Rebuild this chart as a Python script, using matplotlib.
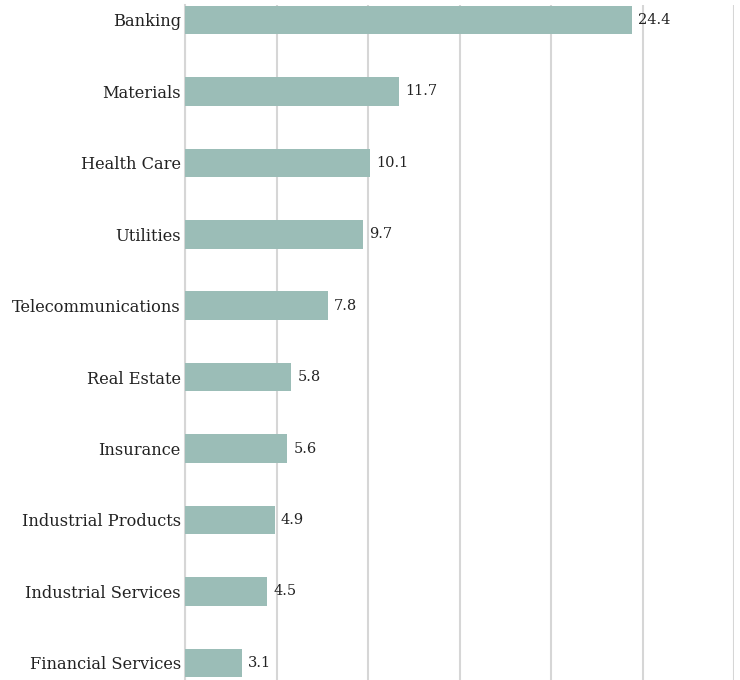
import matplotlib
matplotlib.use('Agg')
import matplotlib.pyplot as plt

sectors = ['Banking', 'Materials', 'Health Care', 'Utilities', 'Telecommunications',
           'Real Estate', 'Insurance', 'Industrial Products', 'Industrial Services',
           'Financial Services']
values = [24.4, 11.7, 10.1, 9.7, 7.8, 5.8, 5.6, 4.9, 4.5, 3.1]

plt.rcParams['font.family'] = ['DejaVu Serif']

fig = plt.figure(figsize=(7.4, 6.8), dpi=100)
ax = fig.add_axes([185 / 740, 0, (734 - 185) / 740, 675 / 680])

ypos = list(range(len(sectors)))
ax.barh(ypos, values, height=0.4, color='#9bbdb7', zorder=3)

for y, v in zip(ypos, values):
    ax.annotate(f'{v:.1f}', (v, y), xytext=(4.5, 0), textcoords='offset points',
                va='center', ha='left', fontsize=10.5, color='#222222')

ax.set_xlim(0, 30)
ax.set_ylim(9.24, -0.21)
ax.set_xticks([0, 5, 10, 15, 20, 25, 30])
ax.xaxis.grid(True, color='#d6d6d6', linewidth=1.5, zorder=0)
ax.set_yticks(ypos)
ax.set_yticklabels(sectors, fontsize=11.7, color='#222222')
ax.tick_params(axis='y', length=0, pad=3)
ax.tick_params(axis='x', length=0, labelbottom=False)
for s in ['top', 'right', 'bottom']:
    ax.spines[s].set_visible(False)
ax.spines['left'].set_color('#d6d6d6')
ax.spines['left'].set_linewidth(1.5)

plt.savefig('out.png', dpi=100)
